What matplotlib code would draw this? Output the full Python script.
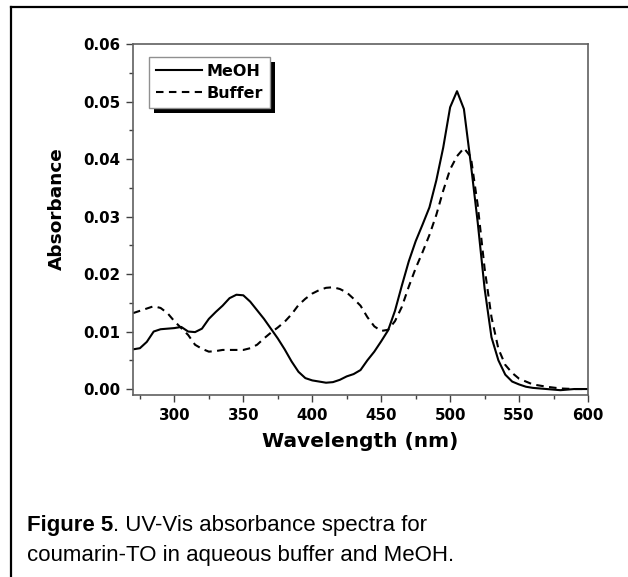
import numpy as np
import matplotlib
matplotlib.use('Agg')
import matplotlib.pyplot as plt
from matplotlib.lines import Line2D
from matplotlib.patches import Rectangle
from matplotlib.ticker import MultipleLocator, FormatStrFormatter

plt.rcParams['font.family'] = ['DejaVu Sans']

# wavelength (nm) and absorbance
wl_meoh = [270, 275, 280, 285, 290, 295, 300, 305, 310, 315, 320, 325, 330, 335,
           340, 345, 350, 355, 360, 365, 370, 375, 380, 385, 390, 395, 400, 405,
           410, 415, 420, 425, 430, 435, 440, 445, 450, 455, 460, 465, 470, 475,
           480, 485, 490, 495, 500, 505, 510, 515, 520, 525, 530, 535, 540, 545,
           550, 555, 560, 570, 580, 590, 600]
abs_meoh = [0.0069, 0.0071, 0.0082, 0.0100, 0.0104, 0.0105, 0.0106, 0.0108, 0.0100,
            0.0099, 0.0105, 0.0122, 0.0134, 0.0145, 0.0158, 0.0164, 0.0163, 0.0152,
            0.0137, 0.0122, 0.0105, 0.0088, 0.0069, 0.0048, 0.0030, 0.0019, 0.0015,
            0.0013, 0.0011, 0.0012, 0.0016, 0.0022, 0.0026, 0.0033, 0.0050, 0.0065,
            0.0083, 0.0102, 0.0136, 0.0180, 0.0222, 0.0257, 0.0286, 0.0316, 0.0363,
            0.0420, 0.0490, 0.0518, 0.0487, 0.0392, 0.0290, 0.0175, 0.0090, 0.0050,
            0.0025, 0.0013, 0.0008, 0.0004, 0.0002, 0.0000, -0.0002, 0.0000, 0.0000]

wl_buf = [270, 275, 280, 285, 290, 295, 300, 305, 310, 315, 320, 325, 330, 335,
          340, 345, 350, 355, 360, 365, 370, 375, 380, 385, 390, 395, 400, 405,
          410, 415, 420, 425, 430, 435, 440, 445, 450, 455, 460, 465, 470, 475,
          480, 485, 490, 495, 500, 505, 510, 515, 520, 525, 530, 535, 540, 545,
          550, 555, 560, 570, 580, 590, 600]
abs_buf = [0.0132, 0.0136, 0.0140, 0.0144, 0.0141, 0.0132, 0.0118, 0.0106, 0.0094,
           0.0077, 0.0070, 0.0065, 0.0066, 0.0068, 0.0068, 0.0068, 0.0068, 0.0071,
           0.0077, 0.0088, 0.0098, 0.0107, 0.0117, 0.0130, 0.0146, 0.0157, 0.0166,
           0.0172, 0.0176, 0.0177, 0.0174, 0.0168, 0.0157, 0.0145, 0.0125, 0.0109,
           0.0101, 0.0103, 0.0118, 0.0143, 0.0178, 0.0210, 0.0238, 0.0268, 0.0303,
           0.0345, 0.0382, 0.0405, 0.0419, 0.0404, 0.0320, 0.0210, 0.0125, 0.0070,
           0.0042, 0.0028, 0.0018, 0.0013, 0.0008, 0.0004, 0.0001, 0.0000, 0.0000]

fig = plt.figure(figsize=(6.28, 5.77), dpi=100)
W, H = fig.bbox.width, fig.bbox.height
ax = fig.add_axes([0.2118, 0.3154, 0.7245, 0.6083])

ax.plot(wl_meoh, abs_meoh, color='black', lw=1.5, label='MeOH')
ax.plot(wl_buf, abs_buf, color='black', lw=1.5, ls=(0, (3.6, 2.6)), label='Buffer')

ax.set_xlim(270, 600)
ax.set_ylim(-0.00104, 0.06)
ax.xaxis.set_major_locator(MultipleLocator(50))
ax.xaxis.set_minor_locator(MultipleLocator(25))
ax.yaxis.set_major_locator(MultipleLocator(0.01))
ax.yaxis.set_minor_locator(MultipleLocator(0.005))
ax.yaxis.set_major_formatter(FormatStrFormatter('%.2f'))

for s in ax.spines.values():
    s.set_color('#606060')
    s.set_linewidth(1.2)
ax.tick_params(which='both', direction='out', color='#404040', width=1,
               top=False, right=False)
ax.tick_params(which='major', length=5, labelsize=10.8, pad=4)
ax.tick_params(which='minor', length=3)
for lb in ax.get_xticklabels() + ax.get_yticklabels():
    lb.set_fontweight('bold')

ax.set_xlabel('Wavelength (nm)', fontsize=14.5, fontweight='bold', labelpad=7)
ax.set_ylabel('Absorbance', fontsize=13.3, fontweight='bold')
ax.yaxis.set_label_coords(-0.147, 0.53)

leg = ax.legend(loc='upper left', bbox_to_anchor=(0.035, 0.963), borderaxespad=0,
                fancybox=False, framealpha=1, edgecolor='#909090',
                prop={'weight': 'bold', 'size': 11.5}, handlelength=2.9,
                handletextpad=0.3, labelspacing=0.45, borderpad=0.42)
leg.get_frame().set_linewidth(1)

# black drop shadow behind the legend box
fig.canvas.draw()
bb = leg.get_window_extent()
inv = ax.transAxes.inverted()
p0 = inv.transform((bb.x0 + 5, bb.y0 - 5))
p1 = inv.transform((bb.x1 + 5, bb.y1 - 5))
sh = Rectangle(p0, p1[0] - p0[0], p1[1] - p0[1], transform=ax.transAxes,
               facecolor='black', edgecolor='none', clip_on=False, zorder=4.9)
ax.add_patch(sh)

# page border (top and left)
fig.add_artist(Line2D([11 / W, 1.0], [1 - 7 / H, 1 - 7 / H], color='black', lw=1.6,
                      transform=fig.transFigure))
fig.add_artist(Line2D([11 / W, 11 / W], [0.0, 1 - 7 / H], color='black', lw=1.6,
                      transform=fig.transFigure))

# caption
cap = {'family': ['Liberation Sans', 'DejaVu Sans'], 'size': 16}
t1 = fig.text(27 / W, 1 - 531 / H, 'Figure 5', fontdict=cap, fontweight='bold',
              va='baseline')
fig.text(27 / W, 1 - 561 / H, 'coumarin-TO in aqueous buffer and MeOH.',
         fontdict=cap, va='baseline')
plt.annotate('. UV-Vis absorbance spectra for', xy=(1, 0), xycoords=t1,
             va='bottom', ha='left', **cap)

fig.savefig('out.png', dpi=100)
